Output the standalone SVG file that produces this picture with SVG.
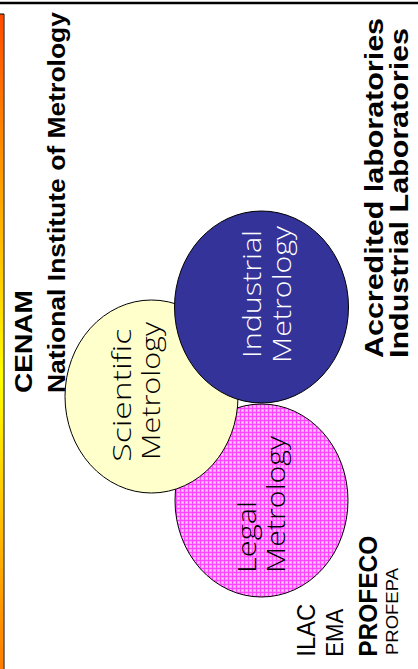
<svg xmlns="http://www.w3.org/2000/svg" width="418" height="669" viewBox="0 0 418 669">
<style>
.b{font-family:"Liberation Sans",Arial,sans-serif;font-weight:bold;fill:#000}
.r{font-family:"Liberation Sans",Arial,sans-serif;fill:#000}
.c{font-family:"Open Sans","DejaVu Sans",sans-serif;font-weight:300;font-size:26.5px}
.circ{stroke:#000;stroke-width:1}
</style>
<defs>
<linearGradient id="bar" x1="0" y1="0" x2="0" y2="1">
<stop offset="0" stop-color="#FF4A00"/>
<stop offset="0.55" stop-color="#FFFF00"/>
<stop offset="1" stop-color="#FF7A00"/>
</linearGradient>
<pattern id="grid" width="4" height="4" patternUnits="userSpaceOnUse">
<rect width="4" height="4" fill="#FFA0FF"/>
<rect width="4" height="1" fill="#FF44FF"/>
<rect width="1" height="4" fill="#FF44FF"/>
<rect x="2" y="2" width="1" height="1" fill="#FFD6FF"/>
</pattern>
</defs>
<rect width="418" height="669" fill="#fff"/>
<g id="frame">
<line x1="0" y1="3" x2="418" y2="3" stroke="#000" stroke-width="2.5"/>
<rect x="0" y="14" width="3.6" height="660" fill="url(#bar)"/>
<polyline points="0,14 4,14 4,669" fill="none" stroke="#000" stroke-width="1"/>
</g>
<g id="connectors"/>
<g id="legal">
<ellipse class="circ" cx="261.5" cy="500.5" rx="86.5" ry="96.5" fill="url(#grid)"/>
<text class="c" fill="#000" transform="translate(256,573) rotate(-90)" textLength="72" lengthAdjust="spacingAndGlyphs">Legal</text>
<text class="c" fill="#000" transform="translate(285,573) rotate(-90)" textLength="137" lengthAdjust="spacingAndGlyphs">Metrology</text>
</g>
<g id="scientific">
<ellipse class="circ" cx="151.5" cy="396.5" rx="86.5" ry="96.5" fill="#FFFFCC"/>
<text class="c" fill="#000" transform="translate(130.5,461.7) rotate(-90)" textLength="133" lengthAdjust="spacingAndGlyphs">Scientific</text>
<text class="c" fill="#000" transform="translate(159.5,460) rotate(-90)" textLength="138" lengthAdjust="spacingAndGlyphs">Metrology</text>
</g>
<g id="industrial">
<ellipse class="circ" cx="261.5" cy="307" rx="87" ry="96" fill="#333399"/>
<text class="c" fill="#fff" transform="translate(261,358) rotate(-90)" textLength="128" lengthAdjust="spacingAndGlyphs">Industrial</text>
<text class="c" fill="#fff" transform="translate(291,363) rotate(-90)" textLength="137" lengthAdjust="spacingAndGlyphs">Metrology</text>
</g>
<g id="cenam">
<text class="b" font-size="23" transform="translate(32,393) rotate(-90)" textLength="103" lengthAdjust="spacingAndGlyphs">CENAM</text>
<text class="b" font-size="24" transform="translate(65,393) rotate(-90)" textLength="381" lengthAdjust="spacingAndGlyphs">National Institute of Metrology</text>
</g>
<g id="labs">
<text class="b" font-size="25" transform="translate(383,358) rotate(-90)" textLength="340" lengthAdjust="spacingAndGlyphs">Accredited laboratories</text>
<text class="b" font-size="25" transform="translate(408,358) rotate(-90)" textLength="330" lengthAdjust="spacingAndGlyphs">Industrial Laboratories</text>
</g>
<g id="legal-bodies">
<text class="r" font-size="25" transform="translate(315,656.7) rotate(-90)" textLength="53" lengthAdjust="spacingAndGlyphs">ILAC</text>
<text class="r" font-size="23" transform="translate(343.3,656.7) rotate(-90)" textLength="48" lengthAdjust="spacingAndGlyphs">EMA</text>
<text class="b" font-size="26" transform="translate(376.7,656.7) rotate(-90)" textLength="121" lengthAdjust="spacingAndGlyphs">PROFECO</text>
<text class="r" font-size="16" transform="translate(398.3,655) rotate(-90)" textLength="87" lengthAdjust="spacingAndGlyphs">PROFEPA</text>
</g>
</svg>
